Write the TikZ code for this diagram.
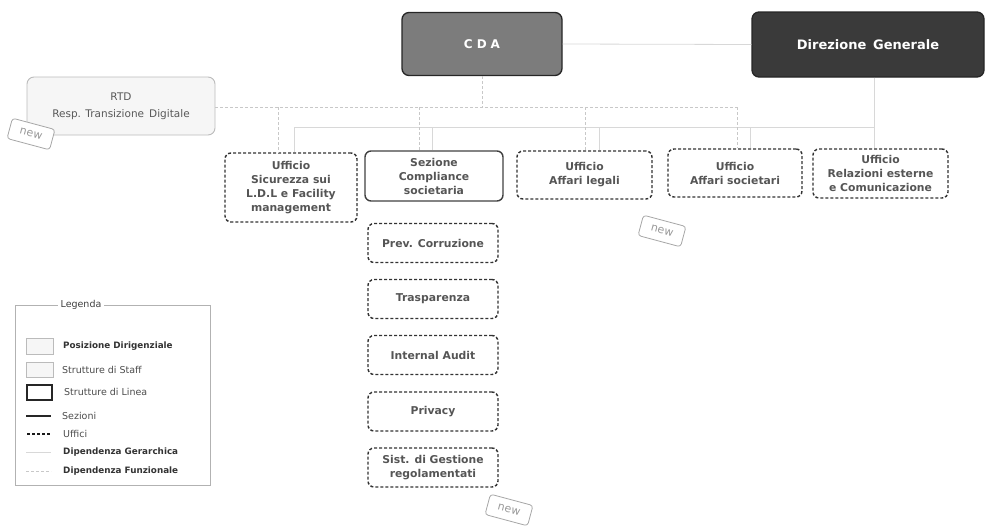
\documentclass[tikz,border=0pt]{standalone}
\usepackage{fontspec}
\setmainfont{DejaVu Sans}
\definecolor{cdafill}{HTML}{7C7C7C}
\definecolor{dgfill}{HTML}{3A3A3A}
\definecolor{boxtxt}{HTML}{555555}
\definecolor{linefunc}{HTML}{C8C8C8}
\definecolor{linehier}{HTML}{D8D8D8}
\definecolor{staffborder}{HTML}{BBBBBB}
\definecolor{stafffill}{HTML}{F6F6F6}
\begin{document}
\begin{tikzpicture}[x=1pt,y=-1pt,
  topbox/.style={rounded corners=7pt, draw=black!85, line width=1.3pt, text=white, font=\bfseries\fontsize{12}{14}\selectfont, align=center, inner sep=0pt},
  staffbox/.style={rounded corners=7pt, draw=staffborder, fill=stafffill, line width=0.9pt, text=black!65, font=\fontsize{10.5}{17}\selectfont, align=center, inner sep=0pt},
  ufficio/.style={rounded corners=6pt, draw=black!80, line width=1.4pt, dash pattern=on 3pt off 2pt, text=boxtxt, font=\bfseries\fontsize{10.8}{14}\selectfont, align=center, inner sep=0pt},
  sezione/.style={rounded corners=6pt, draw=black!75, line width=1.4pt, text=boxtxt, font=\bfseries\fontsize{10.8}{14}\selectfont, align=center, inner sep=0pt},
  func/.style={draw=linefunc, line width=0.6pt, dash pattern=on 3pt off 2pt},
  hier/.style={draw=linehier, line width=0.8pt},
  newtag/.style={rounded corners=3pt, draw=gray!70, line width=0.8pt, text=gray!80, font=\fontsize{11}{12}\selectfont, minimum width=44pt, minimum height=21pt, inner sep=0pt, rotate=-15},
  legtxt/.style={anchor=west, text=black!70, font=\fontsize{9.5}{11}\selectfont, inner sep=0pt},
  legbold/.style={legtxt, text=black!80, font=\bfseries\fontsize{8.8}{11}\selectfont}
]
\useasboundingbox (0,0) rectangle (990,530);

% top boxes
\node[topbox, fill=cdafill, minimum width=160pt, minimum height=63pt] (cda) at (482,44) {C\,\,D\,\,A};
\node[topbox, fill=dgfill, minimum width=232pt, minimum height=65pt, font=\bfseries\fontsize{13}{15}\selectfont] (dg) at (868,44.5) {Direzione\, Generale};
\node[staffbox, minimum width=188pt, minimum height=58pt] (rtd) at (121,106) {RTD\\Resp. Transizione\, Digitale};

% second row
\node[ufficio, minimum width=132pt, minimum height=69pt] (sic) at (291,187.5) {Ufficio\\Sicurezza sui\\L.D.L e Facility\\management};
\node[sezione, minimum width=138pt, minimum height=50pt] (sez) at (434,176) {Sezione\\Compliance\\societaria};
\node[ufficio, minimum width=135pt, minimum height=48pt] (leg) at (584.5,175) {Ufficio\\Affari legali};
\node[ufficio, minimum width=134pt, minimum height=48pt] (aso) at (735,173) {Ufficio\\Affari societari};
\node[ufficio, minimum width=135pt, minimum height=49pt] (rel) at (880.5,173.5) {Ufficio\\Relazioni esterne\\e Comunicazione};

% column
\node[ufficio, minimum width=130pt, minimum height=39pt] (c1) at (433,243) {Prev. Corruzione};
\node[ufficio, minimum width=130pt, minimum height=39pt] (c2) at (433,299) {Trasparenza};
\node[ufficio, minimum width=130pt, minimum height=39pt] (c3) at (433,355) {Internal Audit};
\node[ufficio, minimum width=130pt, minimum height=39pt] (c4) at (433,411.5) {Privacy};
\node[ufficio, minimum width=130pt, minimum height=39pt] (c5) at (433,467.5) {Sist. di Gestione\\regolamentati};

% hierarchical connectors
\draw[hier] (cda.east) -- (dg.west);
\coordinate (h1) at (294,127);
\coordinate (h2) at (432,127);
\coordinate (h3) at (599,127);
\coordinate (h4) at (750,127);
\coordinate (h5) at (874,127);
\draw[hier] (h1) -- (h5);
\draw[hier] (h5 |- dg.south) -- (h5 |- rel.north);
\draw[hier] (h1) -- (h1 |- sic.north);
\draw[hier] (h2) -- (h2 |- sez.north);
\draw[hier] (h3) -- (h3 |- leg.north);
\draw[hier] (h4) -- (h4 |- aso.north);

% functional connectors
\coordinate (f0) at (482,107);
\coordinate (f1) at (278,107);
\coordinate (f2) at (419,107);
\coordinate (f3) at (585,107);
\coordinate (f4) at (737,107);
\draw[func] (cda.south) -- (f0);
\draw[func] (rtd.east |- f0) -- (f4);
\draw[func] (f1) -- (f1 |- sic.north);
\draw[func] (f2) -- (f2 |- sez.north);
\draw[func] (f3) -- (f3 |- leg.north);
\draw[func] (f4) -- (f4 |- aso.north);

% new tags
\node[newtag, fill=white] (n1) at (31,134) {new};
\node[newtag, fill=white] (n2) at (662,231) {new};
\node[newtag, fill=white] (n3) at (509,510) {new};

% legend
\draw[draw=gray!60, line width=0.7pt] (15,305) rectangle (210,485);
\node[fill=white, inner sep=3pt, text=black!75, font=\fontsize{9.5}{11}\selectfont] (legtitle) at (81,305) {Legenda};
\draw[draw=staffborder, fill=stafffill, line width=0.8pt] (26,338) rectangle (53,354);
\node[legbold] (l1) at (63,346) {Posizione Dirigenziale};
\draw[draw=staffborder, fill=stafffill, line width=0.8pt] (26,362) rectangle (53,377);
\node[legtxt] (l2) at (62,370) {Strutture di Staff};
\draw[draw=black!85, line width=1.3pt] (27,385) rectangle (52,400);
\node[legtxt] (l3) at (64,392) {Strutture di Linea};
\draw[draw=black!85, line width=1.1pt] (26,416) -- (51,416);
\node[legtxt] (l4) at (62,416) {Sezioni};
\draw[draw=black!90, line width=1.4pt, dash pattern=on 3pt off 2pt] (27,434) -- (50,434);
\node[legtxt] (l5) at (63,434) {Uffici};
\draw[hier] (26,452) -- (51,452);
\node[legbold] (l6) at (63,452) {Dipendenza Gerarchica};
\draw[func] (26,471) -- (51,471);
\node[legbold] (l7) at (63,471) {Dipendenza Funzionale};
\end{tikzpicture}
\end{document}
